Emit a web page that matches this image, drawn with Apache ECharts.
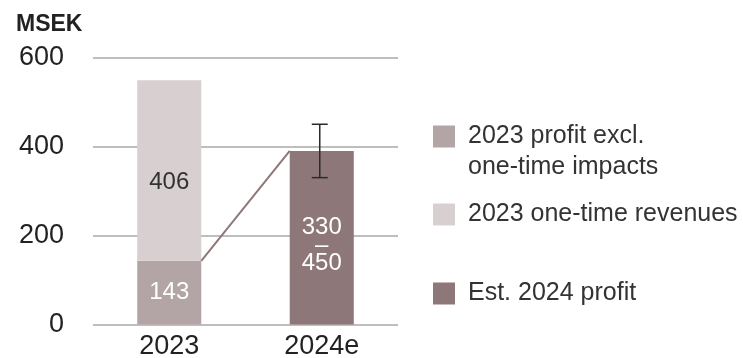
<!DOCTYPE html>
<html>
<head>
<meta charset="utf-8">
<script src="https://cdn.jsdelivr.net/npm/echarts@6/dist/echarts.min.js"></script>
<style>
  html, body { margin: 0; padding: 0; background: #ffffff; }
  #chart { width: 743px; height: 358px; }
</style>
</head>
<body>
<div id="chart"></div>
<script>
// Categories and values (MSEK)
const categories = ['2023', '2024e'];
const profitExcl = [143, '-'];          // 2023 profit excl. one-time impacts
const oneTimeRevenues = [406, '-'];     // 2023 one-time revenues
const estProfit = ['-', 390];           // Est. 2024 profit (bar height)
const estRangeLow = [330];              // 2024e estimate range
const estRangeHigh = [450];
const bridgeValues = [143, 390];        // connector from 2023 underlying to 2024e
const yTicks = [0, 200, 400, 600];

const seriesNames = [
  '2023 profit excl. one-time impacts',
  '2023 one-time revenues',
  'Est. 2024 profit'
];
const colors = ['#b3a4a5', '#d8cfd1', '#8e7778'];

const FONT = 'Liberation Sans, Arial, sans-serif';
const BAR_RATIO = 0.42;
const LEGEND_FONT = 25;

const chart = echarts.init(document.getElementById('chart'), null, { renderer: 'canvas' });

function legendFor(name, top, formatter) {
  return {
    data: [name],
    left: 433,
    top: top,
    padding: 0,
    orient: 'vertical',
    itemWidth: 22,
    itemHeight: 22,
    itemGap: 0,
    icon: 'rect',
    selectedMode: false,
    formatter: formatter || '{name}',
    textStyle: { fontFamily: FONT, fontSize: LEGEND_FONT, color: '#333', padding: [0, 0, 0, 8] }
  };
}

const option = {
  animation: false,
  color: colors,
  title: {
    text: 'MSEK',
    left: 16,
    top: 13,
    padding: 0,
    textStyle: { fontFamily: FONT, fontSize: 23, fontWeight: 'bold', color: '#222' }
  },
  legend: [
    legendFor(seriesNames[0], 124, function () { return '2023 profit excl.'; }),
    legendFor(seriesNames[1], 202),
    legendFor(seriesNames[2], 281)
  ],
  graphic: [
    {
      // second line of the first legend entry
      type: 'text',
      left: 468,
      top: 155,
      style: { text: 'one-time impacts', fill: '#333', font: LEGEND_FONT + 'px ' + FONT }
    }
  ],
  grid: { left: 93, right: 345, top: 57.5, bottom: 33.5, outerBoundsMode: 'none', containLabel: false },
  xAxis: {
    type: 'category',
    data: categories,
    axisLine: { show: false },
    axisTick: { show: false },
    axisLabel: { fontFamily: FONT, fontSize: 27, color: '#222', margin: 9 }
  },
  yAxis: {
    type: 'value',
    min: yTicks[0],
    max: yTicks[yTicks.length - 1],
    interval: 200,
    axisLine: { show: false },
    axisTick: { show: false },
    axisLabel: { fontFamily: FONT, fontSize: 27, color: '#222', margin: 29 },
    splitLine: { lineStyle: { color: '#a9a9a9', width: 1.5 } }
  },
  series: [
    {
      name: seriesNames[0],
      type: 'bar',
      stack: 'total',
      barWidth: (BAR_RATIO * 100) + '%',
      data: profitExcl,
      itemStyle: { color: colors[0] },
      label: {
        show: true, position: 'inside', color: '#fff',
        fontFamily: FONT, fontSize: 24
      },
      z: 3
    },
    {
      name: seriesNames[1],
      type: 'bar',
      stack: 'total',
      data: oneTimeRevenues,
      itemStyle: { color: colors[1] },
      label: {
        show: true, position: 'inside', color: '#333', offset: [0, 12],
        fontFamily: FONT, fontSize: 24
      },
      z: 3
    },
    {
      name: seriesNames[2],
      type: 'bar',
      stack: 'total',
      data: estProfit,
      itemStyle: { color: colors[2] },
      label: {
        show: true, position: 'inside', color: '#fff', offset: [0, 8],
        fontFamily: FONT, fontSize: 24, lineHeight: 18,
        formatter: function () { return estRangeLow[0] + '\n–\n' + estRangeHigh[0]; }
      },
      z: 3
    },
    {
      // connector between the 2023 underlying profit and the 2024e estimate
      type: 'custom',
      data: [[0, bridgeValues[0], 1, bridgeValues[1]]],
      renderItem: function (params, api) {
        const p0 = api.coord([api.value(0), api.value(1)]);
        const p1 = api.coord([api.value(2), api.value(3)]);
        const half = api.size([1, 0])[0] * BAR_RATIO / 2;
        return {
          type: 'line',
          shape: { x1: p0[0] + half, y1: p0[1], x2: p1[0] - half, y2: p1[1] },
          style: { stroke: '#8e7778', lineWidth: 2 }
        };
      },
      z: 4,
      silent: true
    },
    {
      // estimate range whisker
      type: 'custom',
      data: [[1, estRangeLow[0], estRangeHigh[0]]],
      renderItem: function (params, api) {
        const lo = api.coord([api.value(0), api.value(1)]);
        const hi = api.coord([api.value(0), api.value(2)]);
        const x = lo[0] - 2;
        const cap = 8;
        const style = { stroke: '#2b2b2b', lineWidth: 1.5 };
        return {
          type: 'group',
          children: [
            { type: 'line', shape: { x1: x, y1: lo[1], x2: x, y2: hi[1] }, style: style },
            { type: 'line', shape: { x1: x - cap, y1: lo[1], x2: x + cap, y2: lo[1] }, style: style },
            { type: 'line', shape: { x1: x - cap, y1: hi[1], x2: x + cap, y2: hi[1] }, style: style }
          ]
        };
      },
      z: 5,
      silent: true
    }
  ]
};

chart.setOption(option);
</script>
</body>
</html>
